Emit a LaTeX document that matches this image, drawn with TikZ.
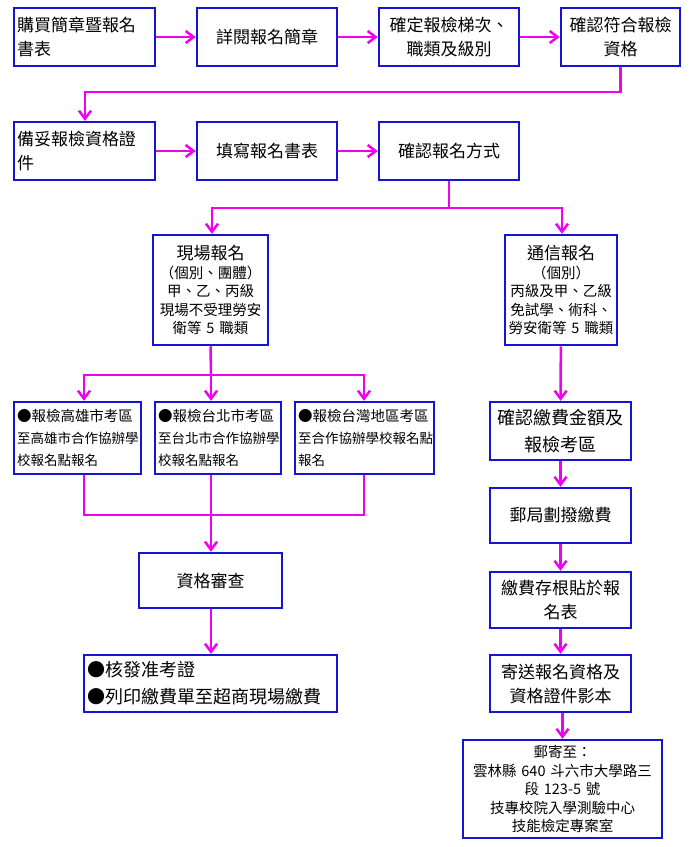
\documentclass[tikz,border=0pt]{standalone}
\usepackage{fontspec}
\setmainfont{Noto Sans CJK TC}
\usetikzlibrary{arrows.meta}
\definecolor{mg}{RGB}{240,0,240}
\definecolor{bl}{RGB}{20,20,210}
\begin{document}
\begin{tikzpicture}[x=1pt,y=-1pt,
 box/.style={draw=bl,line width=2.5pt,fill=white,inner sep=2pt,align=center,font=\fontsize{17}{24}\selectfont},
 sm/.style={box,align=left,font=\fontsize{13.5}{22}\selectfont},
 ar/.style={draw=mg,line width=2.5pt,-{Straight Barb[length=8pt,width=12pt]}},
 ln/.style={draw=mg,line width=2.5pt}]
\useasboundingbox (0,0) rectangle (700,847);
\newcommand\bx[7]{\node[#6,minimum width={#3-#2},minimum height={#5-#4},text width={#3-#2-6}] (#1) at ({(#2+#3)/2},{(#4+#5)/2}) {#7};}
\bx{b1}{14}{155}{8}{66}{box,align=left}{購買簡章暨報名\\書表}
\bx{b2}{197}{337}{8}{66}{box}{詳閱報名簡章}
\bx{b3}{379}{519}{8}{66}{box}{確定報檢梯次、\\職類及級別}
\bx{b4}{561}{680}{8}{66}{box}{確認符合報檢\\資格}
\bx{b5}{14}{155}{122}{180}{box,align=left}{備妥報檢資格證\\件}
\bx{b6}{197}{337}{122}{180}{box}{填寫報名書表}
\bx{b7}{379}{519}{122}{180}{box}{確認報名方式}
\bx{b8}{153}{268}{235}{345}{box,font=\fontsize{14.5}{18.5}\selectfont}{{\fontsize{17}{21}\selectfont 現場報名}\\（個別、團體）\\甲、乙、丙級\\現場不受理勞安\\衛等 5 職類}
\bx{b9}{505}{617}{235}{345}{box,font=\fontsize{14.5}{18.5}\selectfont}{{\fontsize{17}{21}\selectfont 通信報名}\\（個別）\\丙級及甲、乙級\\免試學、術科、\\勞安衛等 5 職類}
\bx{b10}{14}{141}{402}{474}{sm}{{\fontsize{14.5}{22}\selectfont ●報檢高雄市考區}\\至高雄市合作協辦學\\校報名點報名}
\bx{b11}{155}{281}{402}{474}{sm}{{\fontsize{14.5}{22}\selectfont ●報檢台北市考區}\\至台北市合作協辦學\\校報名點報名}
\bx{b12}{295}{434}{402}{474}{sm}{{\fontsize{14.5}{22}\selectfont ●報檢台灣地區考區}\\至合作協辦學校報名點\\報名}
\bx{b13}{139}{282}{553}{608}{box}{資格審查}
\bx{b14}{84}{337}{655}{712}{box,align=left,font=\fontsize{18}{27}\selectfont}{●核發准考證\\●列印繳費單至超商現場繳費}
\bx{b15}{490}{631}{402}{460}{box,font=\fontsize{18}{27}\selectfont}{確認繳費金額及\\報檢考區}
\bx{b16}{490}{631}{488}{543}{box}{郵局劃撥繳費}
\bx{b17}{490}{631}{572}{628}{box}{繳費存根貼於報\\名表}
\bx{b18}{490}{631}{655}{712}{box}{寄送報名資格及\\資格證件影本}
\bx{b19}{463}{662}{740}{838}{box,font=\fontsize{14.5}{18.5}\selectfont}{郵寄至：\\雲林縣 640 斗六市大學路三\\段 123-5 號\\技專校院入學測驗中心\\技能檢定專案室}
\draw[ar] (b1) -- (b2);
\draw[ar] (b2) -- (b3);
\draw[ar] (b3) -- (b4);
\coordinate (t5) at (85,92);
\draw[ar] (b4.south) |- (t5) -- (b5.north -| t5);
\draw[ar] (b5) -- (b6);
\draw[ar] (b6) -- (b7);
\coordinate (s7) at (449,208);
\draw[ln] (b7.south) -- (s7);
\draw[ar] (s7) -| (b8.north -| 212,0);
\draw[ar] (s7) -| (b9.north -| 562,0);
\coordinate (s8) at (211,375);
\draw[ln] (b8.south) -- (s8);
\draw[ar] (s8) -| (b10.north -| 84,0);
\draw[ar] (s8) -- (b11.north -| 211,0);
\draw[ar] (s8) -| (b12.north -| 364,0);
\coordinate (j) at (211,515);
\draw[ln] (b10.south -| 84,0) -- (84,515) -- (364,515) -- (b12.south -| 364,0);
\draw[ln] (b11.south -| 211,0) -- (j);
\draw[ar] (j) -- (b13.north -| 211,0);
\draw[ar] (b13.south -| 211,0) -- (b14.north -| 211,0);
\draw[ar] (b9) -- (b15);
\draw[ar] (b15) -- (b16);
\draw[ar] (b16) -- (b17);
\draw[ar] (b17) -- (b18);
\draw[ar] (b18.south -| b19) -- (b19);
\end{tikzpicture}
\end{document}
